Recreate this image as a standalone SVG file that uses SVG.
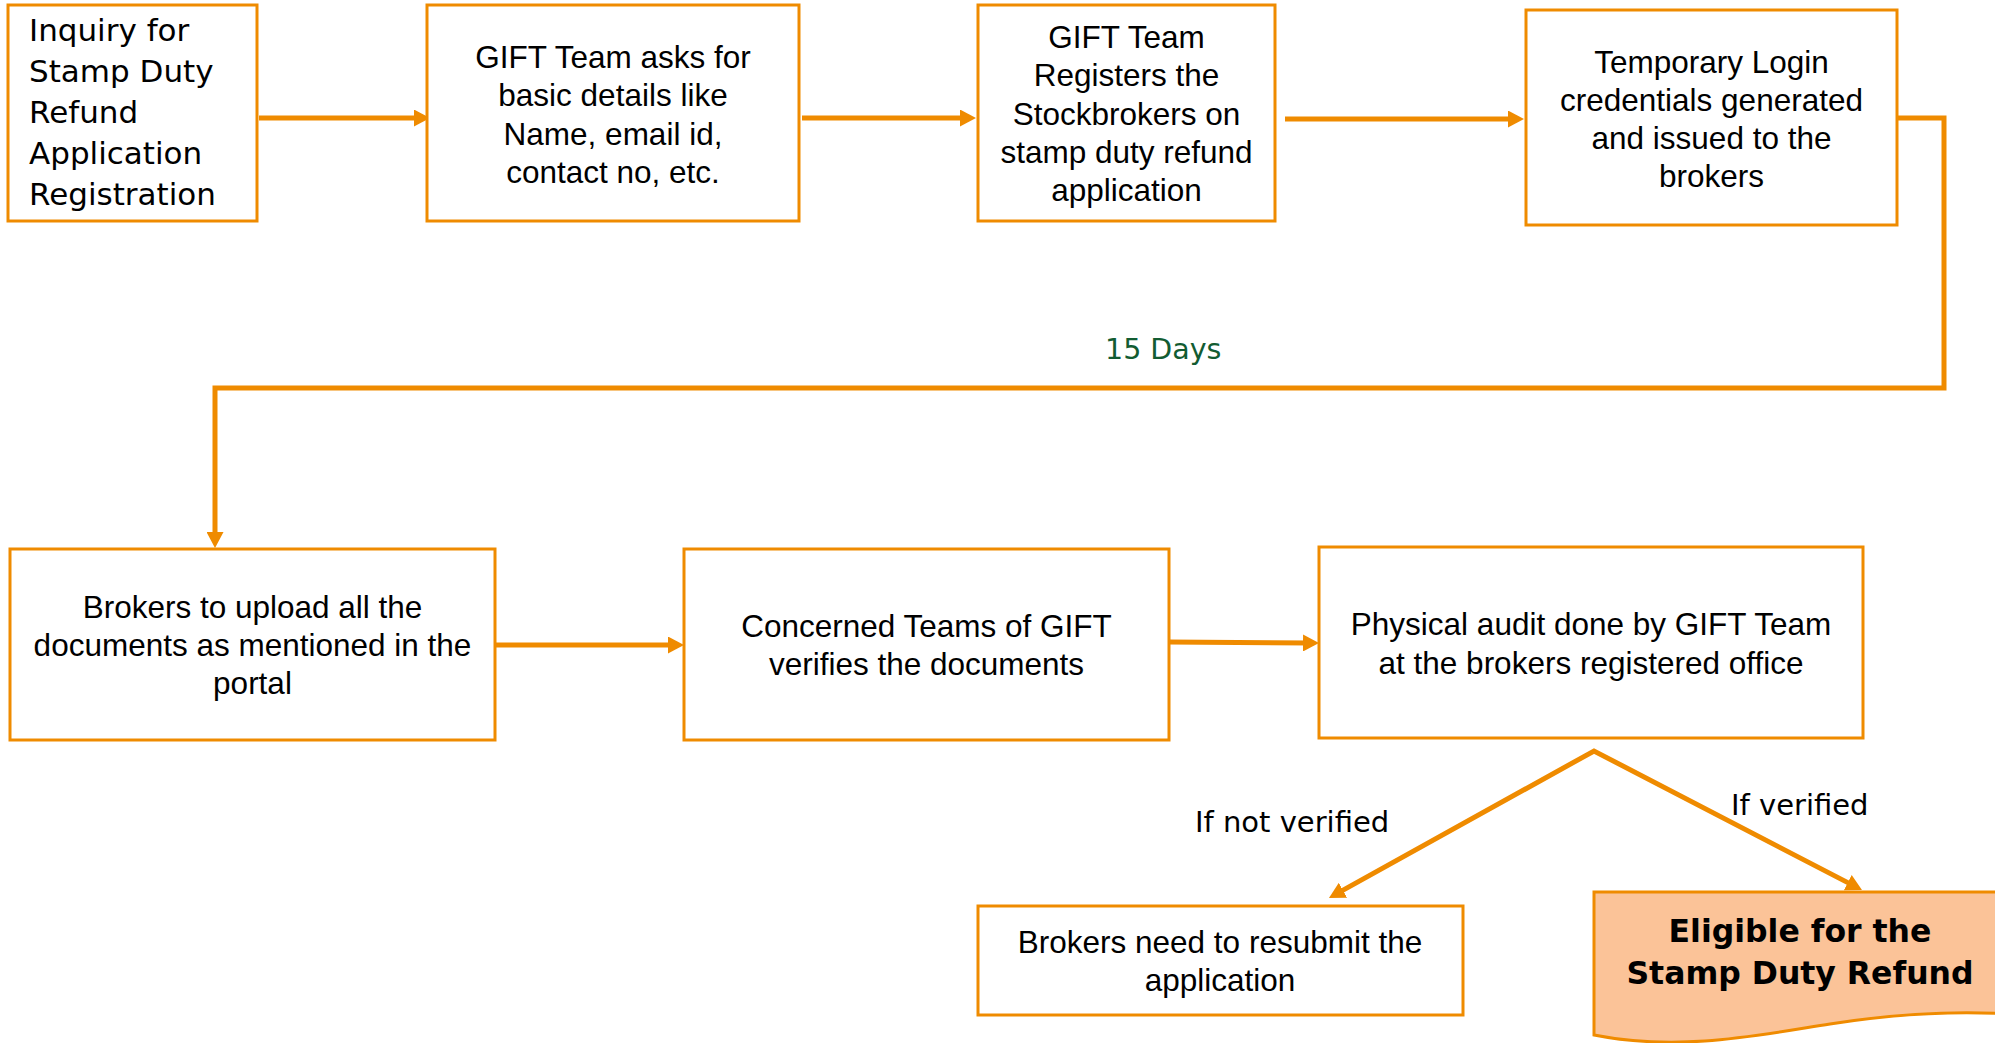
<svg xmlns="http://www.w3.org/2000/svg" width="1995" height="1043" viewBox="0 0 1995 1043">
  <style>
    .box { fill: #ffffff; stroke: #ef8b00; stroke-width: 3; }
    .doc { fill: #fbc398; stroke: #ef8b00; stroke-width: 3; }
    .conn { fill: none; stroke: #ef8b00; stroke-width: 5; stroke-linejoin: miter; }
    .t { font-family: "Liberation Sans", Arial, sans-serif; font-size: 31.5px; fill: #000000; text-anchor: middle; }
    .v { font-family: "DejaVu Sans", Verdana, sans-serif; font-size: 31px; fill: #000000; }
    .lbl { font-family: "DejaVu Sans", Verdana, sans-serif; font-size: 29px; fill: #000000; }
    .days { font-family: "DejaVu Sans", Verdana, sans-serif; font-size: 28.5px; fill: #125c32; }
    .vb { font-family: "DejaVu Sans", Verdana, sans-serif; font-size: 31.5px; font-weight: bold; fill: #000000; text-anchor: middle; }
  </style>
  <defs>
    <marker id="arrow" markerUnits="userSpaceOnUse" markerWidth="17" markerHeight="17" refX="6" refY="8.5" orient="auto-start-reverse">
      <path d="M0,0 L16,8.5 L0,17 z" fill="#ef8b00"/>
    </marker>
  </defs>

  <rect width="1995" height="1043" fill="#ffffff"/>

  <!-- connectors -->
  <g id="connectors">
    <line class="conn" x1="259" y1="118" x2="420" y2="118" marker-end="url(#arrow)"/>
    <line class="conn" x1="802" y1="118" x2="966" y2="118" marker-end="url(#arrow)"/>
    <line class="conn" x1="1285" y1="119" x2="1514" y2="119" marker-end="url(#arrow)"/>
    <path class="conn" d="M1897,118 H1944 V388 H215 V538" marker-end="url(#arrow)"/>
    <line class="conn" x1="495" y1="645" x2="674" y2="645" marker-end="url(#arrow)"/>
    <line class="conn" x1="1169" y1="642" x2="1309" y2="643" marker-end="url(#arrow)"/>
    <path class="conn" d="M1337.7,893.1 L1594,751 L1853.1,885.4" marker-start="url(#arrow)" marker-end="url(#arrow)"/>
    <text class="days" x="1105" y="359">15 Days</text>
    <text class="lbl" x="1195" y="832">If not verified</text>
    <text class="lbl" x="1731" y="815">If verified</text>
  </g>

  <!-- process steps -->
  <g id="inquiry">
    <rect class="box" x="8" y="5" width="249" height="216"/>
    <text class="v" x="29" y="41">Inquiry for</text>
    <text class="v" x="29" y="82">Stamp Duty</text>
    <text class="v" x="29" y="123">Refund</text>
    <text class="v" x="29" y="164">Application</text>
    <text class="v" x="29" y="205">Registration</text>
  </g>

  <g id="basic-details">
    <rect class="box" x="427" y="5" width="372" height="216"/>
    <text class="t" x="613" y="67.5">GIFT Team asks for</text>
    <text class="t" x="613" y="106">basic details like</text>
    <text class="t" x="613" y="144.5">Name, email id,</text>
    <text class="t" x="613" y="183">contact no, etc.</text>
  </g>

  <g id="register">
    <rect class="box" x="978" y="5" width="297" height="216"/>
    <text class="t" x="1126.5" y="48">GIFT Team</text>
    <text class="t" x="1126.5" y="86">Registers the</text>
    <text class="t" x="1126.5" y="124.5">Stockbrokers on</text>
    <text class="t" x="1126.5" y="163">stamp duty refund</text>
    <text class="t" x="1126.5" y="201">application</text>
  </g>

  <g id="credentials">
    <rect class="box" x="1526" y="10" width="371" height="215"/>
    <text class="t" x="1711.5" y="72.5">Temporary Login</text>
    <text class="t" x="1711.5" y="110.5">credentials generated</text>
    <text class="t" x="1711.5" y="148.5">and issued to the</text>
    <text class="t" x="1711.5" y="186.5">brokers</text>
  </g>

  <g id="upload">
    <rect class="box" x="10" y="549" width="485" height="191"/>
    <text class="t" x="252.5" y="618">Brokers to upload all the</text>
    <text class="t" x="252.5" y="656">documents as mentioned in the</text>
    <text class="t" x="252.5" y="694">portal</text>
  </g>

  <g id="verify">
    <rect class="box" x="684" y="549" width="485" height="191"/>
    <text class="t" x="926.5" y="637">Concerned Teams of GIFT</text>
    <text class="t" x="926.5" y="675">verifies the documents</text>
  </g>

  <g id="audit">
    <rect class="box" x="1319" y="547" width="544" height="191"/>
    <text class="t" x="1591" y="635">Physical audit done by GIFT Team</text>
    <text class="t" x="1591" y="674">at the brokers registered office</text>
  </g>

  <g id="resubmit">
    <rect class="box" x="978" y="906" width="485" height="109"/>
    <text class="t" x="1220" y="953">Brokers need to resubmit the</text>
    <text class="t" x="1220" y="991">application</text>
  </g>

  <g id="eligible">
    <path class="doc" d="M1594,892 H2010 V1014 C1960,1011 1900,1013 1830,1024 C1760,1035 1680,1052 1594,1035 Z"/>
    <text class="vb" x="1800" y="942">Eligible for the</text>
    <text class="vb" x="1800" y="984">Stamp Duty Refund</text>
  </g>
</svg>
